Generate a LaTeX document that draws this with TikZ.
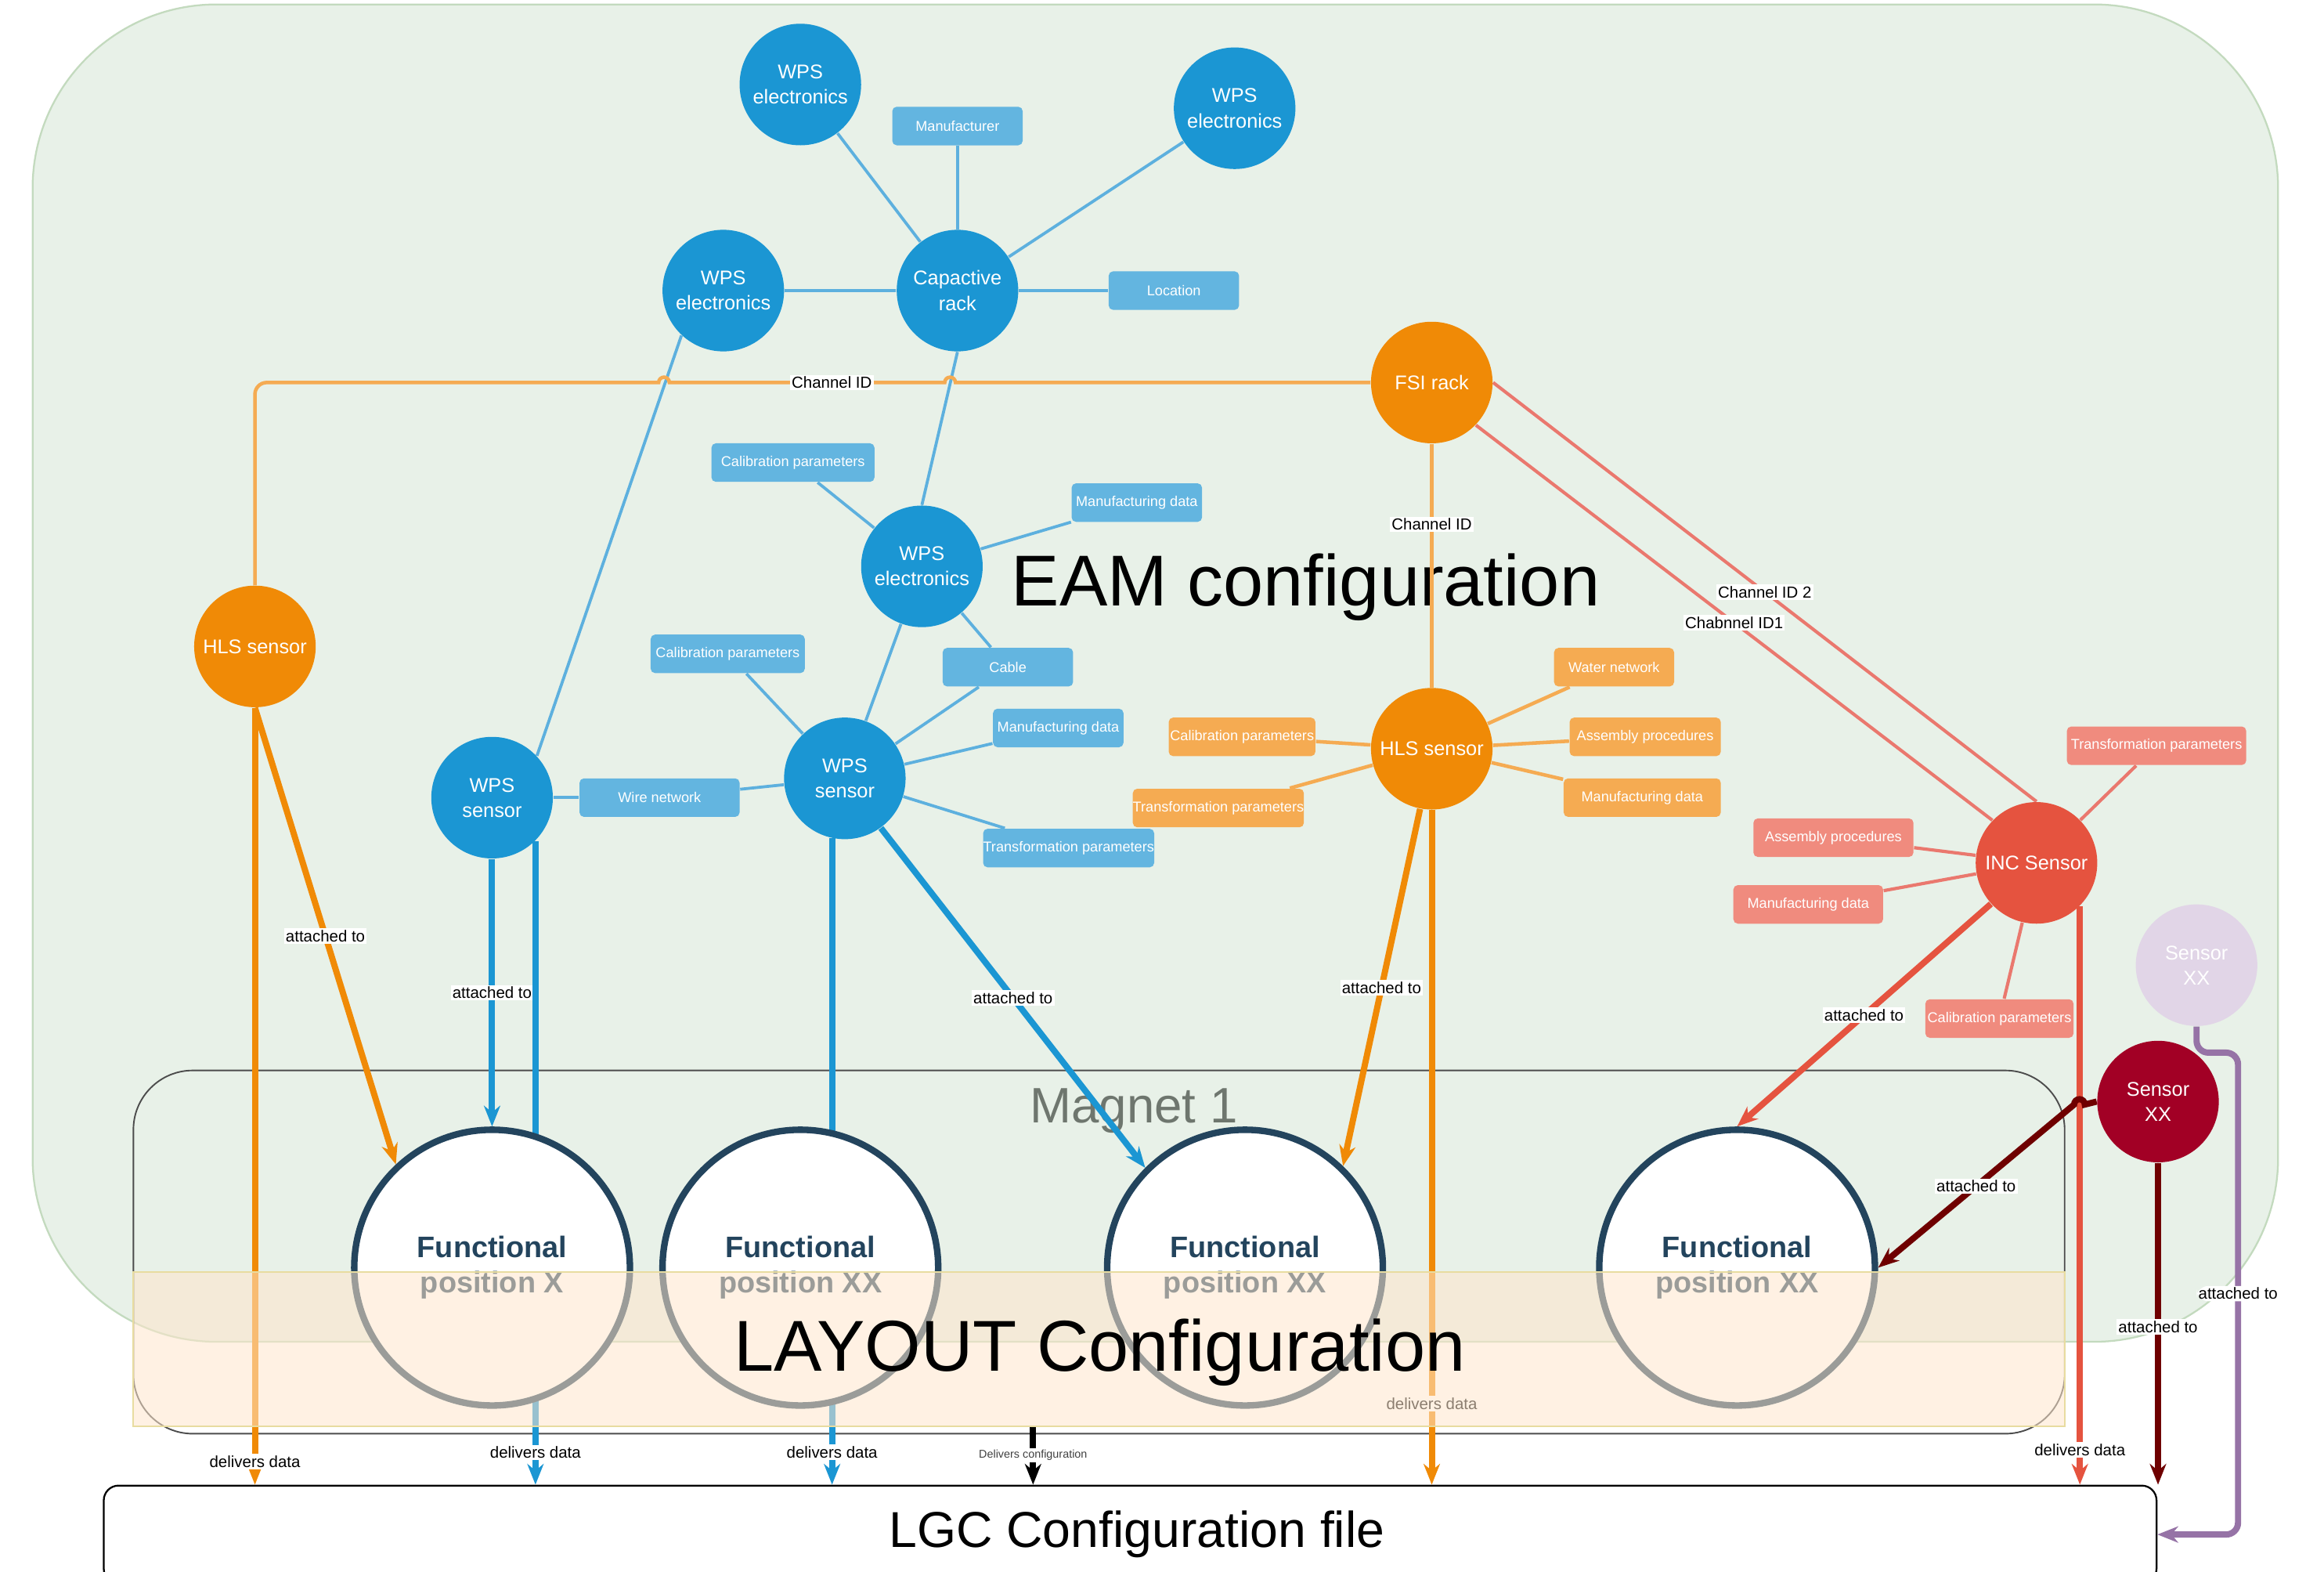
\documentclass[tikz,border=0pt]{standalone}
\usepackage{fontspec}
\setmainfont{Liberation Sans}
\usetikzlibrary{arrows.meta,calc,fit}
\definecolor{cblue}{RGB}{27,150,211}
\definecolor{cblueL}{RGB}{99,181,224}
\definecolor{cblueLn}{RGB}{93,176,222}
\definecolor{corange}{RGB}{240,138,6}
\definecolor{corangeL}{RGB}{245,171,82}
\definecolor{cred}{RGB}{229,83,63}
\definecolor{credL}{RGB}{240,139,126}
\definecolor{credLn}{RGB}{234,120,110}
\definecolor{cdred}{RGB}{162,0,37}
\definecolor{cdredA}{RGB}{111,0,0}
\definecolor{clilac}{RGB}{225,213,231}
\definecolor{cpurple}{RGB}{150,115,166}
\definecolor{fpblue}{RGB}{35,68,93}
\definecolor{gbg}{RGB}{232,241,232}
\definecolor{gbgline}{RGB}{195,218,190}
\definecolor{bandc}{RGB}{255,230,204}
\definecolor{bandline}{RGB}{232,220,160}
\definecolor{magc}{RGB}{110,118,110}
\pgfdeclarelayer{bg}
\pgfdeclarelayer{edges}
\pgfdeclarelayer{over}
\pgfdeclarelayer{top}
\pgfsetlayers{bg,edges,main,over,top}
\tikzset{
  circ/.style={circle, minimum size=41pt, inner sep=0pt, text=white, align=center,
    font=\fontsize{6.7}{8.5}\selectfont},
  wpsc/.style={circ, fill=cblue},
  orc/.style={circ, fill=corange},
  prop/.style={rectangle, rounded corners=1.5pt, inner sep=0pt, minimum height=13pt,
    text=white, font=\fontsize{4.8}{5.5}\selectfont},
  bprop/.style={prop, fill=cblueL},
  oprop/.style={prop, fill=corangeL},
  rprop/.style={prop, fill=credL},
  fp/.style={circle, minimum size=93pt, draw=fpblue, line width=2.2pt, fill=white,
    inner sep=0pt, align=center, text=fpblue, font=\bfseries\fontsize{10}{12}\selectfont},
  bline/.style={draw=cblueLn, line width=1pt},
  oline/.style={draw=corangeL, line width=1.2pt},
  rline/.style={draw=credLn, line width=1.1pt},
  arr/.style={line width=2.1pt, -{Stealth[length=7pt,width=5.5pt]}},
  lbl/.style={fill=white, inner sep=0.6pt, text=black, font=\fontsize{5.4}{6}\selectfont},
}
\begin{document}
\begin{tikzpicture}[x=0.5pt,y=-0.5pt]
\useasboundingbox (0,0) rectangle (1568,1060);

% ---------- nodes ----------
\node[wpsc] (we1) at (540,57) {WPS\\electronics};
\node[wpsc] (we2) at (833,73) {WPS\\electronics};
\node[wpsc] (we3) at (488,196) {WPS\\electronics};
\node[wpsc] (cap) at (646,196) {Capactive\\rack};
\node[wpsc] (we4) at (622,382) {WPS\\electronics};
\node[wpsc] (ws1) at (332,538) {WPS\\sensor};
\node[wpsc] (ws2) at (570,525) {WPS\\sensor};
\node[orc] (fsi) at (966,258) {FSI rack};
\node[orc] (hls1) at (172,436) {HLS sensor};
\node[orc] (hls2) at (966,505) {HLS sensor};
\node[circ, fill=cred] (inc) at (1374,582) {INC Sensor};
\node[circ, fill=clilac] (sxl) at (1482,651) {Sensor\\XX};
\node[circ, fill=cdred] (sxd) at (1456,743) {Sensor\\XX};

\node[bprop, minimum width=44pt] (man) at (646,85) {Manufacturer};
\node[bprop, minimum width=44pt] (loc) at (792,196) {Location};
\node[bprop, minimum width=55pt] (cal1) at (535,312) {Calibration parameters};
\node[bprop, minimum width=44pt] (mfd1) at (767,339) {Manufacturing data};
\node[bprop, minimum width=52pt] (cal2) at (491,441) {Calibration parameters};
\node[bprop, minimum width=44pt] (cab) at (680,450) {Cable};
\node[bprop, minimum width=44pt] (mfd2) at (714,491) {Manufacturing data};
\node[bprop, minimum width=54pt] (wire) at (445,538) {Wire network};
\node[bprop, minimum width=57.5pt] (tr1) at (721,572) {Transformation parameters};

\node[oprop, minimum width=40.5pt] (water) at (1089,450) {Water network};
\node[oprop, minimum width=49.5pt] (ocal) at (838,497) {Calibration parameters};
\node[oprop, minimum width=51pt] (oasm) at (1110,497) {Assembly procedures};
\node[oprop, minimum width=56pt] (otr) at (822,545) {Transformation parameters};
\node[oprop, minimum width=53pt] (omfd) at (1108,538) {Manufacturing data};

\node[rprop, minimum width=60.5pt] (rtr) at (1455,503) {Transformation parameters};
\node[rprop, minimum width=54pt] (rasm) at (1237,565) {Assembly procedures};
\node[rprop, minimum width=50.5pt] (rmfd) at (1220,610) {Manufacturing data};
\node[rprop, minimum width=50pt] (rcal) at (1349,687) {Calibration parameters};

\node[fp] (fp1) at (332,855) {Functional\\position X};
\node[fp] (fp2) at (540,855) {Functional\\position XX};
\node[fp] (fp3) at (840,855) {Functional\\position XX};
\node[fp] (fp4) at (1172,855) {Functional\\position XX};

% ---------- background containers ----------
\begin{pgfonlayer}{bg}
  \fill[white] (0,0) rectangle (1568,1060);
  \coordinate (g1) at (22,3); \coordinate (g2) at (1537,905);
  \node[fit=(g1)(g2), inner sep=0pt, fill=gbg, draw=gbgline, line width=0.6pt,
        rounded corners=62pt] (eambox) {};
  \node[font=\fontsize{24.3}{28}\selectfont] (eam) at (881,396) {EAM configuration};
  \coordinate (m1) at (90,722); \coordinate (m2) at (1393,967);
  \node[fit=(m1)(m2), inner sep=0pt, draw=black!70, line width=0.5pt,
        rounded corners=20pt] (mag) {};
  \node[font=\fontsize{16.8}{20}\selectfont, text=magc] (magt) at (765,749) {Magnet 1};
  \coordinate (l1) at (70,1002); \coordinate (l2) at (1455,1068);
  \node[fit=(l1)(l2), inner sep=0pt, draw=black, line width=0.6pt, fill=white,
        rounded corners=5pt] (lgc) {};
  \node[font=\fontsize{17}{20}\selectfont] (lgct) at (767,1035) {LGC Configuration file};
\end{pgfonlayer}

\begin{pgfonlayer}{over}
  \coordinate (b1) at (90,858); \coordinate (b2) at (1393,962);
  \node[fit=(b1)(b2), inner sep=0pt, fill=bandc, fill opacity=0.55,
        draw=bandline, line width=0.5pt] (band) {};
\end{pgfonlayer}
\begin{pgfonlayer}{top}
  \node[font=\fontsize{24.3}{28}\selectfont] (lay) at (742,912) {LAYOUT Configuration};
\end{pgfonlayer}

% ---------- connectors ----------
\begin{pgfonlayer}{edges}
  % blue thin
  \draw[bline] (we1) -- (cap);
  \draw[bline] (man) -- (cap);
  \draw[bline] (we2) -- (cap);
  \draw[bline] (we3) -- (cap);
  \draw[bline] (loc) -- (cap);
  \draw[bline] (cap.south) -- (we4.north);
  \draw[bline] (we3.227) -- (ws1.43);
  \draw[bline] (cal1) -- (we4);
  \draw[bline] (mfd1) -- (we4);
  \draw[bline] (we4) -- (cab);
  \draw[bline] (we4) -- (ws2);
  \draw[bline] (cal2) -- (ws2);
  \draw[bline] (cab) -- (ws2);
  \draw[bline] (mfd2) -- (ws2);
  \draw[bline] (wire) -- (ws2);
  \draw[bline] (wire) -- (ws1);
  \draw[bline] (tr1) -- (ws2);
  % orange thin
  \draw[oline] (fsi.west) -- (644.6,258) arc[start angle=0,end angle=180,radius=1.8pt]
     -- node[lbl, pos=0.41] {Channel ID} (451.6,258) arc[start angle=0,end angle=180,radius=1.8pt]
     -- ++(-2,0) [rounded corners=4pt] -- (172,258) -- (hls1.north);
  \draw[oline] (fsi) -- node[lbl, pos=0.33] {Channel ID} (hls2);
  \draw[oline] (hls2) -- (water);
  \draw[oline] (hls2) -- (ocal);
  \draw[oline] (hls2) -- (oasm);
  \draw[oline] (hls2) -- (otr);
  \draw[oline] (hls2) -- (omfd);
  % red thin
  \draw[rline] (fsi.east) -- node[lbl] {Channel ID 2} (inc.north);
  \draw[rline] (fsi.316) -- node[lbl] {Chabnnel ID1} (inc.136);
  \draw[rline] (inc) -- (rtr);
  \draw[rline] (inc) -- (rasm);
  \draw[rline] (inc) -- (rmfd);
  \draw[rline] (inc) -- (rcal);
  % thick arrows
  \draw[arr, corange] (hls1.south) -- node[lbl] {attached to} (fp1.133);
  \draw[arr, corange] (hls1.south) -- node[lbl, pos=0.97] {delivers data} (hls1.south |- lgc.north);
  \draw[arr, cblue] (ws1.south) -- node[lbl] {attached to} (fp1.north);
  \draw[arr, cblue] (ws1.315) -- node[lbl, pos=0.95] {delivers data} (ws1.315 |- lgc.north);
  \draw[arr, cblue] (ws2.258) -- node[lbl, pos=0.95] {delivers data} (ws2.258 |- lgc.north);
  \draw[arr, cblue] (ws2.306) -- node[lbl] {attached to} (fp3.135);
  \draw[arr, corange] (hls2.259) -- node[lbl] {attached to} (fp3.46);
  \draw[arr, corange] (hls2.south) -- node[lbl, pos=0.88] {delivers data} (hls2.south |- lgc.north);
  \draw[arr, cred] (inc.222) -- node[lbl] {attached to} (fp4.north);
  \draw[arr, cred] (inc.315) -- node[lbl, pos=0.94] {delivers data} (inc.315 |- lgc.north);
  \draw[arr, cdredA] (sxd.south) -- node[lbl, pos=0.51] {attached to} (sxd.south |- lgc.north);
  \draw[arr, cdredA] (sxd.west) -- (1406.6,745) arc[start angle=0,end angle=180,radius=1.8pt]
     -- node[lbl] {attached to} (fp4.east);
  \coordinate (lc1) at (1482,710);
  \coordinate (lc2) at (1510,710);
  \draw[arr, cpurple, rounded corners=4pt] (sxl.south) -- (lc1) -- (lc2)
     -- node[lbl] {attached to} (lc2 |- lgc.east) -- (lgc.east);
  \coordinate (dcs) at (697,962);
  \draw[arr, black] (dcs) -- node[lbl, text=black!75, font=\fontsize{3.8}{4.5}\selectfont, pos=0.5] {Delivers configuration} (dcs |- lgc.north);
\end{pgfonlayer}
\end{tikzpicture}
\end{document}
